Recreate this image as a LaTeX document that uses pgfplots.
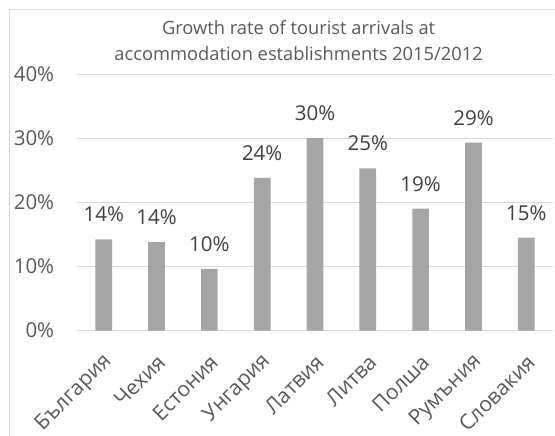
\documentclass[border=0pt]{standalone}
\usepackage{fontspec}
\setmainfont{Open Sans}
\usepackage{pgfplots}
\usepackage{pgfplotstable}
\pgfplotsset{compat=1.18}
\definecolor{txt}{HTML}{595959}
\definecolor{lbl}{HTML}{404040}
\definecolor{gridc}{HTML}{D9D9D9}
\definecolor{barc}{HTML}{A5A5A5}
\pgfplotstableread{
x y lab
0 14.2 14
1 13.8 14
2 9.6 10
3 23.8 24
4 30.0 30
5 25.3 25
6 19.0 19
7 29.3 29
8 14.5 15
}\datatable
\begin{document}
\begin{tikzpicture}
\useasboundingbox (-77.3bp,-105.5bp) rectangle (477.7bp,330.5bp);
\draw[gridc, line width=1bp] (-68bp,-110bp) -- (-68bp,320.5bp) -- (480bp,320.5bp);
\node[anchor=base, text=txt, font=\fontsize{18.3bp}{22bp}\selectfont, inner sep=0pt] at (221.3bp,295.5bp) {Growth rate of tourist arrivals at};
\node[anchor=base, text=txt, font=\fontsize{18.3bp}{22bp}\selectfont, inner sep=0pt] at (221.3bp,269.5bp) {accommodation establishments 2015/2012};
\begin{axis}[
 at={(0,0)}, anchor=south west,
 scale only axis, width=475.4bp, height=256.5bp,
 xmin=-0.5, xmax=8.5, ymin=0, ymax=40,
 ytick={0,10,20,30,40},
 yticklabel={\pgfmathprintnumber{\tick}\%},
 ymajorgrids, grid style={gridc, line width=1bp},
 axis line style={draw=none},
 xtick=data,
 xticklabels={България,Чехия,Естония,Унгария,Латвия,Литва,Полша,Румъния,Словакия},
 major tick length=0pt,
 tick label style={font=\fontsize{20.5bp}{24bp}\selectfont, text=txt},
 y tick label style={anchor=east, inner sep=0pt, xshift=-23bp},
 x tick label style={inner sep=0pt, xshift=5bp, yshift=-28bp, rotate=45, anchor=east, font=\fontsize{21bp}{24bp}\selectfont},
 /pgf/number format/assume math mode=true,
 ybar, bar width=16.7bp,
 nodes near coords={\pgfplotspointmeta\%},
 nodes near coords style={anchor=base, inner sep=0pt, yshift=17.5bp, text=lbl, font=\fontsize{20.5bp}{24bp}\selectfont},
]
\addplot[fill=barc, draw=none, point meta=explicit symbolic] table[x=x, y=y, meta=lab] {\datatable};
\end{axis}
\end{tikzpicture}
\end{document}
